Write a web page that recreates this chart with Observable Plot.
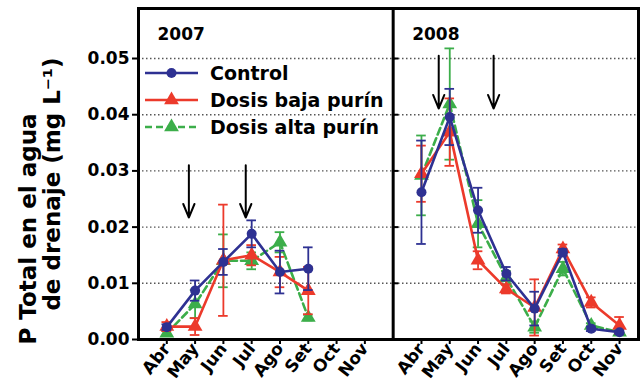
<!DOCTYPE html>
<html>
<head>
<meta charset="utf-8">
<script src="https://cdn.jsdelivr.net/npm/d3@7"></script>
<script src="https://cdn.jsdelivr.net/npm/@observablehq/plot@0.6"></script>
<style>
  html, body { margin: 0; padding: 0; background: white; }
  #wrap { position: relative; width: 642px; height: 392px; }
  #legend { position: absolute; left: 0; top: 0; pointer-events: none; }
</style>
</head>
<body>
<div id="wrap"></div>
<script>
// ---- data ----
const months = ["Abr", "May", "Jun", "Jul", "Ago", "Set", "Oct", "Nov"];
const years = ["2007", "2008"];
const seriesNames = ["Control", "Dosis baja purín", "Dosis alta purín"];
const seriesColors = ["#2e3192", "#ec3a2b", "#3cae4a"];

const control2007 = [0.0022, 0.0087, 0.0138, 0.0188, 0.0120, 0.0126];
const controlErr2007 = [0.0005, 0.0018, 0.0023, 0.0024, 0.0038, 0.0038];
const baja2007 = [0.0023, 0.0023, 0.0141, 0.0150, 0.0120, 0.0087];
const bajaErr2007 = [0.0008, 0.0015, 0.0099, 0.0018, 0.0027, 0.0042];
const alta2007 = [0.0011, 0.0063, 0.0140, 0.0140, 0.0173, 0.0039];
const altaErr2007 = [0.0004, 0.0025, 0.0047, 0.0015, 0.0018, 0.0005];

const control2008 = [0.0262, 0.0396, 0.0230, 0.0117, 0.0055, 0.0155, 0.0019, 0.0013];
const controlErr2008 = [0.0092, 0.0050, 0.0040, 0.0012, 0.0030, 0.0006, 0.0004, 0.0003];
const baja2008 = [0.0295, 0.0369, 0.0141, 0.0090, 0.0057, 0.0161, 0.0066, 0.0025];
const bajaErr2008 = [0.0050, 0.0060, 0.0016, 0.0008, 0.0050, 0.0008, 0.0009, 0.0015];
const alta2008 = [0.0292, 0.0419, 0.0206, 0.0110, 0.0022, 0.0126, 0.0025, 0.0013];
const altaErr2008 = [0.0071, 0.0099, 0.0042, 0.0012, 0.0010, 0.0012, 0.0004, 0.0003];

// slurry application arrows (month position, start value, tip value)
const arrowYear = ["2007", "2007", "2008", "2008"];
const arrowMonthPos = [0.78, 2.79, 0.61, 2.55];
const arrowTop = [0.031, 0.031, 0.0505, 0.0505];
const arrowTip = [0.0217, 0.0217, 0.0411, 0.0411];

const yTicks = [0, 0.01, 0.02, 0.03, 0.04, 0.05];
const yLabel1 = "P Total en el agua";
const yLabel2 = "de drenaje (mg L⁻¹)";

// ---- build table ----
const yearOffset = {"2007": 0, "2008": 9};
const raw = [
  ["Control", "2007", control2007, controlErr2007],
  ["Dosis baja purín", "2007", baja2007, bajaErr2007],
  ["Dosis alta purín", "2007", alta2007, altaErr2007],
  ["Control", "2008", control2008, controlErr2008],
  ["Dosis baja purín", "2008", baja2008, bajaErr2008],
  ["Dosis alta purín", "2008", alta2008, altaErr2008]
];
const rows = [];
for (const [s, yr, vals, errs] of raw) {
  vals.forEach((v, i) => rows.push({s, year: yr, x: i + yearOffset[yr], v, e: errs[i]}));
}
const arrows = arrowYear.map((yr, i) => ({x: arrowMonthPos[i] + yearOffset[yr], y1: arrowTop[i], y2: arrowTip[i]}));
const xTicks = [];
for (const yr of years) months.forEach((m, i) => xTicks.push(i + yearOffset[yr]));
const yearLabels = years.map(yr => ({year: yr, x: yearOffset[yr] - 1}));

const bySeries = s => rows.filter(d => d.s === s);
const capW = 0.17;
const font = "DejaVu Sans";

function seriesMarks(s, dash, symbol) {
  const d = bySeries(s);
  return [
    Plot.ruleX(d, {x: "x", y1: r => r.v - r.e, y2: r => r.v + r.e, stroke: "s", strokeWidth: 1.8}),
    Plot.ruleY(d, {y: r => r.v + r.e, x1: r => r.x - capW, x2: r => r.x + capW, stroke: "s", strokeWidth: 1.8}),
    Plot.ruleY(d, {y: r => r.v - r.e, x1: r => r.x - capW, x2: r => r.x + capW, stroke: "s", strokeWidth: 1.8}),
    Plot.line(d, {x: "x", y: "v", z: "year", stroke: "s", strokeWidth: 2.6, strokeDasharray: dash}),
    Plot.dot(d, {x: "x", y: "v", fill: "s", symbol, r: symbol === "circle" ? 5 : 5.5})
  ];
}

const chart = Plot.plot({
  width: 642,
  height: 392,
  marginLeft: 138,
  marginRight: 4,
  marginTop: 8,
  marginBottom: 53,
  style: {fontFamily: font, background: "white", color: "black", overflow: "visible"},
  x: {domain: [-1, 16.67], axis: null},
  y: {domain: [0, 0.0589], axis: null},
  color: {domain: seriesNames, range: seriesColors},
  marks: [
    Plot.gridY(yTicks.filter(t => t > 0), {stroke: "#555", strokeOpacity: 1, strokeWidth: 1.4, strokeDasharray: "1.5,2.5"}),
    Plot.ruleY(yTicks.filter(t => t > 0), {x1: 8, x2: 8.2, stroke: "black", strokeWidth: 2}),
    Plot.axisY({ticks: yTicks, tickFormat: d3.format(".2f"), tickSize: 6, tickPadding: 3, fontSize: 17, fontWeight: "bold", strokeWidth: 2, label: null}),
    Plot.axisX({ticks: xTicks, tickFormat: d => months[d >= 9 ? d - 9 : d], tickRotate: -52, tickSize: 5, tickPadding: 1, fontSize: 17, fontWeight: "bold", strokeWidth: 2, label: null}),
    ...seriesMarks("Dosis alta purín", "7,4", "triangle"),
    ...seriesMarks("Dosis baja purín", null, "triangle"),
    ...seriesMarks("Control", null, "circle"),
    Plot.arrow(arrows, {x1: "x", x2: "x", y1: "y1", y2: "y2", stroke: "black", strokeWidth: 2, headLength: 11, headAngle: 45}),
    Plot.frame({strokeWidth: 3}),
    Plot.ruleX([8], {strokeWidth: 3}),
    Plot.text(yearLabels, {x: "x", text: "year", frameAnchor: "top", lineAnchor: "middle", dx: 19, dy: 26, textAnchor: "start", fontSize: 17, fontWeight: "bold"}),
    Plot.text([yLabel1], {text: d => d, frameAnchor: "left", lineAnchor: "middle", rotate: -90, dx: -110, dy: 55, fontSize: 23, fontWeight: "bold", textAnchor: "middle"}),
    Plot.text([yLabel2], {text: d => d, frameAnchor: "left", lineAnchor: "middle", rotate: -90, dx: -86, dy: 10, fontSize: 23, fontWeight: "bold", textAnchor: "middle"})
  ]
});

const wrap = document.getElementById("wrap");
wrap.appendChild(chart);

// ---- legend overlay ----
const ns = "http://www.w3.org/2000/svg";
const leg = document.createElementNS(ns, "svg");
leg.setAttribute("id", "legend");
leg.setAttribute("width", 642);
leg.setAttribute("height", 392);
const rowY = [73, 100, 127];
seriesNames.forEach((name, i) => {
  const y = rowY[i], c = seriesColors[i];
  const line = document.createElementNS(ns, "line");
  line.setAttribute("x1", 145); line.setAttribute("x2", 198);
  line.setAttribute("y1", y); line.setAttribute("y2", y);
  line.setAttribute("stroke", c); line.setAttribute("stroke-width", 2.6);
  if (i === 2) line.setAttribute("stroke-dasharray", "7,4");
  leg.appendChild(line);
  const sym = document.createElementNS(ns, "path");
  sym.setAttribute("d", d3.symbol(i === 0 ? d3.symbolCircle : d3.symbolTriangle, i === 0 ? 78 : 95)());
  sym.setAttribute("transform", `translate(171.5,${y})`);
  sym.setAttribute("fill", c);
  leg.appendChild(sym);
  const t = document.createElementNS(ns, "text");
  t.setAttribute("x", 210); t.setAttribute("y", y + 7);
  t.setAttribute("font-family", font); t.setAttribute("font-weight", "bold");
  t.setAttribute("font-size", 19); t.setAttribute("fill", "black");
  t.textContent = name;
  leg.appendChild(t);
});
wrap.appendChild(leg);
</script>
</body>
</html>
